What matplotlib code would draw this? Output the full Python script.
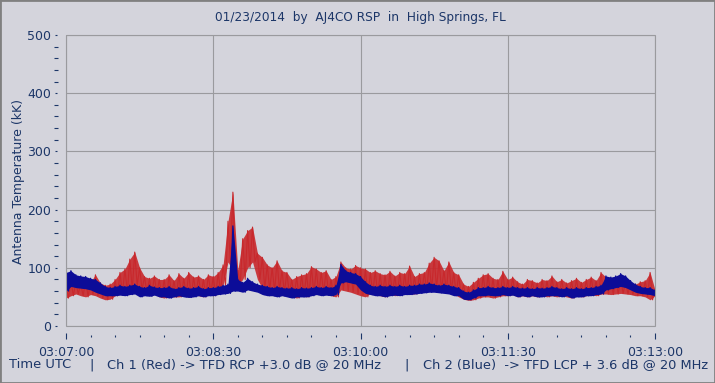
import numpy as np
import matplotlib
matplotlib.use("Agg")
import matplotlib.pyplot as plt
from matplotlib.ticker import MultipleLocator, FixedLocator, FuncFormatter
from matplotlib.patches import Rectangle

# ---------------- data ----------------
title = "01/23/2014  by  AJ4CO RSP  in  High Springs, FL"
y_label = "Antenna Temperature (kK)"
start_clock = 3 * 3600 + 7 * 60          # 03:07:00 UTC
sample_step = 3                          # seconds between envelope readings
x_major_ticks = [0, 90, 180, 270, 360]   # seconds after 03:07:00
y_limits = [0, 500]

footer_parts = ["Time UTC", "|", "Ch 1 (Red) -> TFD RCP +3.0 dB @ 20 MHz", "|",
                "Ch 2 (Blue)  -> TFD LCP + 3.6 dB @ 20 MHz"]

# Ch 1 (red) upper / lower envelope, one reading every 3 s
red_hi = [70, 78, 75, 72, 80, 76, 88, 74, 70, 72,
          80, 92, 98, 115, 127, 100, 85, 82, 86, 80,
          80, 88, 78, 90, 82, 92, 84, 86, 80, 88,
          85, 92, 105, 180, 230, 96, 150, 164, 170, 125,
          118, 105, 100, 112, 95, 92, 80, 85, 88, 90,
          102, 98, 92, 95, 80, 85, 110, 100, 98, 104,
          100, 98, 92, 95, 90, 88, 94, 86, 92, 90,
          103, 85, 90, 92, 108, 118, 112, 95, 110, 92,
          88, 72, 68, 75, 82, 88, 90, 82, 80, 94,
          80, 84, 76, 72, 80, 78, 74, 80, 78, 86,
          76, 80, 74, 78, 82, 75, 80, 84, 78, 92,
          84, 80, 82, 80, 76, 74, 72, 76, 78, 92, 62]
red_lo = [48, 52, 55, 52, 50, 54, 52, 48, 45, 46,
          52, 55, 58, 62, 70, 62, 55, 52, 55, 50,
          48, 52, 50, 50, 52, 50, 54, 52, 50, 55,
          52, 58, 70, 110, 95, 70, 80, 100, 110, 80,
          65, 62, 60, 62, 58, 55, 50, 48, 52, 50,
          55, 55, 58, 55, 52, 50, 62, 60, 58, 55,
          52, 50, 56, 54, 52, 50, 55, 52, 54, 56,
          55, 55, 58, 60, 62, 65, 62, 60, 60, 55,
          50, 46, 44, 45, 48, 50, 50, 48, 50, 52,
          52, 54, 50, 52, 50, 52, 50, 52, 50, 52,
          50, 52, 50, 48, 52, 50, 52, 54, 52, 55,
          55, 54, 55, 56, 55, 54, 52, 52, 50, 45, 52]

# Ch 2 (blue) upper / lower envelope, one reading every 3 s
blue_hi = [92, 95, 88, 86, 85, 82, 80, 74, 68, 66,
           68, 70, 68, 70, 72, 68, 66, 70, 67, 66,
           66, 68, 64, 66, 68, 65, 66, 68, 64, 66,
           66, 68, 70, 72, 172, 80, 75, 82, 76, 72,
           70, 68, 66, 68, 66, 65, 66, 64, 66, 65,
           66, 68, 66, 68, 66, 70, 106, 95, 92, 90,
           85, 76, 70, 68, 70, 68, 70, 68, 70, 68,
           70, 70, 72, 72, 74, 72, 70, 72, 70, 68,
           66, 60, 58, 62, 66, 66, 68, 66, 66, 68,
           66, 68, 66, 65, 66, 64, 66, 65, 66, 68,
           66, 64, 66, 64, 66, 64, 66, 66, 68, 70,
           86, 84, 86, 90, 86, 78, 72, 68, 66, 66, 62]
blue_lo = [60, 68, 66, 65, 64, 62, 58, 55, 52, 52,
           52, 53, 52, 54, 55, 50, 52, 51, 53, 50,
           50, 48, 50, 52, 50, 49, 50, 52, 50, 52,
           52, 54, 55, 56, 60, 60, 58, 62, 60, 58,
           54, 52, 52, 50, 52, 50, 48, 50, 50, 50,
           52, 54, 52, 53, 52, 54, 74, 76, 74, 72,
           62, 56, 54, 52, 52, 50, 52, 53, 52, 54,
           54, 55, 56, 57, 58, 58, 57, 56, 55, 52,
           52, 46, 45, 48, 52, 52, 53, 52, 52, 54,
           52, 53, 50, 52, 50, 52, 50, 50, 52, 52,
           52, 50, 52, 48, 50, 50, 52, 52, 54, 55,
           62, 64, 66, 68, 66, 62, 58, 56, 55, 54, 52]

# ---------------- styling ----------------
BG = "#d4d4dc"
TXT = "#1c3668"
GRID = "#9a9a9e"
RED = "#c8282c"
BLUE = "#0c0c98"

W, H = 715, 383
fig = plt.figure(figsize=(W / 100, H / 100), dpi=100, facecolor=BG)
L, R, T, B = 66, 655, 35, 326
ax = fig.add_axes([L / W, 1 - B / H, (R - L) / W, (B - T) / H], facecolor=BG)


def zigzag(hi, lo, step):
    t = np.arange(len(hi)) * step
    xs = np.empty(2 * len(hi))
    ys = np.empty(2 * len(hi))
    xs[0::2] = t
    xs[1::2] = t + step / 2
    ys[0::2] = hi
    ys[1::2] = lo
    return xs, ys


t_env = np.arange(len(red_hi)) * sample_step
xr, yr = zigzag(red_hi, red_lo, sample_step)
xb, yb = zigzag(blue_hi, blue_lo, sample_step)

# solid noise bands, with the spiky zig-zag trace on top
ax.fill_between(t_env, red_lo, red_hi, color=RED, lw=0, alpha=0.9, zorder=2)
ax.plot(xr, yr, color=RED, lw=0.8, zorder=3)
ax.fill_between(t_env, blue_lo, blue_hi, color=BLUE, lw=0, zorder=4)
ax.plot(xb, yb, color=BLUE, lw=0.9, zorder=5)

ax.set_xlim(x_major_ticks[0], x_major_ticks[-1])
ax.set_ylim(*y_limits)

# grid
ax.xaxis.set_major_locator(FixedLocator(x_major_ticks))
ax.xaxis.set_minor_locator(MultipleLocator(15))
ax.yaxis.set_major_locator(MultipleLocator(100))
ax.yaxis.set_minor_locator(MultipleLocator(20))
ax.grid(True, which="major", color=GRID, lw=0.8, zorder=1)


def clock(v, pos):
    s = int(round(start_clock + v))
    return f"{s // 3600:02d}:{(s % 3600) // 60:02d}:{s % 60:02d}"


ax.xaxis.set_major_formatter(FuncFormatter(clock))

# detached ticks
for side in ["top", "right"]:
    ax.spines[side].set_visible(False)
ax.spines["left"].set_position(("outward", 7))
ax.spines["bottom"].set_position(("outward", 7))
ax.spines["left"].set_visible(False)
ax.spines["bottom"].set_visible(False)
ax.tick_params(axis="x", which="major", direction="inout", length=4.5, width=0.8,
               color=TXT, pad=5, labelsize=9, labelcolor=TXT)
ax.tick_params(axis="x", which="minor", direction="inout", length=1.8, width=0.8, color=TXT)
ax.tick_params(axis="y", which="major", direction="inout", length=1.5, width=0.8,
               color=TXT, pad=3, labelsize=9, labelcolor=TXT)
ax.tick_params(axis="y", which="minor", direction="inout", length=2.5, width=0.8, color=TXT)

# plot frame
ax.add_patch(Rectangle((0, 0), 1, 1, transform=ax.transAxes, fill=False,
                       edgecolor=GRID, lw=0.8, zorder=6, clip_on=False))

# texts
fig.text(360 / W, 1 - 18 / H, title, ha="center", va="center", fontsize=8.7, color=TXT)
fig.text(19 / W, 1 - 181 / H, y_label, rotation=90, ha="center", va="center",
         fontsize=9, color=TXT)
footer_x = [9, 89, 107, 404, 423]
for xp, txt in zip(footer_x, footer_parts):
    fig.text(xp / W, 1 - 365 / H, txt, ha="left", va="center", fontsize=9.4, color=TXT)

# outer border
fig.add_artist(Rectangle((0, 0), 1, 1, transform=fig.transFigure, fill=False,
                         edgecolor="#808080", lw=2))

fig.savefig("out.png", dpi=100, facecolor=BG)
